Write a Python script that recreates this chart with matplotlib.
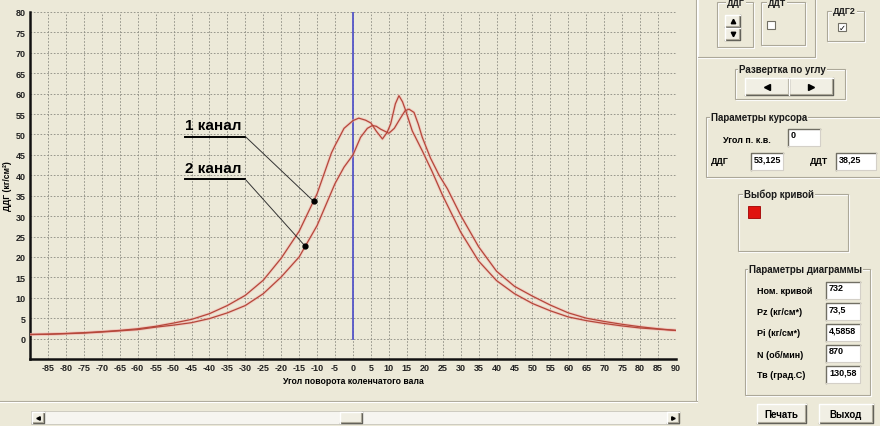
import numpy as np
import matplotlib
matplotlib.use("Agg")
import matplotlib.pyplot as plt
from matplotlib.patches import Rectangle
from matplotlib.lines import Line2D

plt.rcParams['axes.unicode_minus'] = False
plt.rcParams['font.family'] = ['Liberation Sans', 'DejaVu Sans']

# ---------------- data ----------------
ch1_x = [-90, -85, -80, -75, -70, -65, -60, -55, -50, -45, -40, -35, -30, -25, -20, -15, -10, -6, -5, -2.5,
         0, 1.6, 3.5, 5, 6.5, 8.2, 9.5, 10.5, 11.8, 12.8, 13.8, 14.7, 16.5, 19.3, 22, 25, 30, 35, 40, 45,
         50, 55, 60, 65, 70, 75, 80, 85, 90]
ch1_y = [1.0, 1.1, 1.25, 1.45, 1.7, 2.0, 2.4, 3.0, 3.8, 4.7, 6.1, 8.1, 10.6, 14.3, 19.7, 26.3, 35.5, 45.5, 47.3, 51.5,
         53.4, 54.0, 53.5, 52.8, 50.8, 48.9, 50.5, 52.6, 57.5, 59.5, 58.0, 55.8, 50.9, 46.0, 41.0, 35.0, 26.1, 19.0, 14.2, 11.0,
         8.6, 6.8, 5.3, 4.4, 3.7, 3.1, 2.6, 2.3, 2.0]

ch2_x = [-90, -85, -80, -75, -70, -65, -60, -55, -50, -45, -40, -35, -30, -25, -20, -15, -10, -5, -2.5,
         0, 2.1, 4, 5.4, 6.5, 7.7, 10, 11.5, 12.8, 14.5, 15.6, 17, 18.2, 19.3, 21.6, 24, 26.3, 30, 35, 40, 45,
         50, 55, 60, 65, 70, 75, 80, 85, 90]
ch2_y = [1.0, 1.05, 1.2, 1.35, 1.6, 1.9, 2.2, 2.8, 3.3, 3.9, 4.9, 6.3, 8.1, 11.0, 15.1, 20.0, 27.7, 38.0, 42.0,
         45.0, 49.3, 51.5, 52.2, 52.0, 51.3, 50.3, 51.5, 53.4, 55.8, 56.2, 55.4, 52.5, 49.3, 44.2, 40.0, 36.7, 30.2, 22.5, 16.5, 12.8,
         10.4, 8.2, 6.3, 5.0, 4.2, 3.5, 2.9, 2.4, 2.0]

x_ticks = list(range(-85, 91, 5))
y_ticks = list(range(0, 81, 5))
labels = ["1 канал", "2 канал"]
marker_x = [-11.0, -13.3]
cursor_angle = 0

BG = '#ECE9D8'
CURVE = '#b5473a'

fig = plt.figure(figsize=(8.8, 4.27), dpi=100, facecolor=BG)
W, H = 880, 427

# ---------------- UI overlay ----------------
ui = fig.add_axes([0, 0, 1, 1], zorder=0)
ui.set_xlim(0, W)
ui.set_ylim(H, 0)
ui.axis('off')
ui.patch.set_alpha(0)

def etched_h(x0, x1, y):
    ui.add_line(Line2D([x0, x1], [y, y], color='#aca899', lw=0.8))
    ui.add_line(Line2D([x0, x1], [y + 1, y + 1], color='white', lw=0.8))

def etched_v(x, y0, y1):
    ui.add_line(Line2D([x, x], [y0, y1], color='#aca899', lw=0.8))
    ui.add_line(Line2D([x + 1, x + 1], [y0, y1], color='white', lw=0.8))

def groupbox(x0, y0, x1, y1, label=None, lx=None, fs=7, bold=True):
    ui.add_patch(Rectangle((x0 + 1, y0 + 1), x1 - x0, y1 - y0, fill=False, ec='white', lw=0.8))
    ui.add_patch(Rectangle((x0, y0), x1 - x0, y1 - y0, fill=False, ec='#aca899', lw=0.8))
    if label:
        ui.text(lx if lx is not None else x0 + 5, y0, label, va='center', ha='left', fontsize=fs,
                fontweight='bold' if bold else 'normal', color='#1a1a1a',
                bbox=dict(fc=BG, ec='none', pad=0.6), zorder=5)

def button(x0, y0, x1, y1, text=None, fs=7):
    ui.add_patch(Rectangle((x0, y0), x1 - x0, y1 - y0, fc='#f1efe4', ec='none'))
    ui.add_line(Line2D([x0, x1, x1], [y1, y1, y0], color='#5f5e57', lw=1.0))
    ui.add_line(Line2D([x0, x0, x1], [y1, y0, y0], color='white', lw=1.0))
    ui.add_line(Line2D([x0 + 1, x1 - 1, x1 - 1], [y1 - 1, y1 - 1, y0 + 1], color='#aca899', lw=0.8))
    if text:
        ui.text((x0 + x1) / 2, (y0 + y1) / 2 + 0.5, text, ha='center', va='center', fontsize=fs, fontweight='bold')

def editbox(x0, y0, x1, y1, text):
    ui.add_patch(Rectangle((x0, y0), x1 - x0, y1 - y0, fc='white', ec='none'))
    ui.add_line(Line2D([x0, x0, x1], [y1, y0, y0], color='#716f64', lw=1.0))
    ui.add_line(Line2D([x0, x1, x1], [y1, y1, y0], color='#d4d0c8', lw=0.8))
    ui.text(x0 + 3, y0 + 1.5, text, ha='left', va='top', fontsize=6.5, fontweight='bold')

# chart panel border
etched_v(696, 0, 402)
etched_h(0, 697, 402)

# top controls
groupbox(697, -5, 815, 58)
groupbox(717, 3, 753, 48, "ДДГ", lx=727, fs=6.5)
button(725, 16, 740, 28)
button(725, 29, 740, 41)
ui.plot([732.5], [22], marker='^', ms=3.2, color='black')
ui.plot([732.5], [35], marker='v', ms=3.2, color='black')
groupbox(761, 3, 805, 46, "ДДТ", lx=768, fs=6.5)
ui.add_patch(Rectangle((767, 22), 8, 8, fc='white', ec='#716f64', lw=0.8))
groupbox(827, 12, 864, 42, "ДДГ2", lx=833, fs=6.5)
ui.add_patch(Rectangle((838, 24), 8, 8, fc='white', ec='#716f64', lw=0.8))
ui.text(842, 28.5, "✓", ha='center', va='center', fontsize=6, family='DejaVu Sans', fontweight='bold')

# Развертка по углу
groupbox(735, 70, 845, 100, "Развертка по углу", lx=739)
button(745, 79, 789, 96)
button(789, 79, 833, 96)
ui.plot([767], [87.5], marker='<', ms=4, color='black')
ui.plot([811], [87.5], marker='>', ms=4, color='black')

# Параметры курсора
groupbox(706, 118, 885, 178, "Параметры курсора", lx=711)
ui.text(723, 141, "Угол п. к.в.", ha='left', va='center', fontsize=6.5, fontweight='bold')
editbox(788, 130, 820, 147, str(cursor_angle))
ui.text(711, 162, "ДДГ", ha='left', va='center', fontsize=6.5, fontweight='bold')
editbox(751, 154, 783, 171, "53,125")
ui.text(810, 162, "ДДТ", ha='left', va='center', fontsize=6.5, fontweight='bold')
editbox(836, 154, 876, 171, "38,25")

# Выбор кривой
groupbox(738, 195, 848, 252, "Выбор кривой", lx=744)
ui.add_patch(Rectangle((748, 207), 12, 12, fc='#e0140f', ec='#a00000', lw=0.6))

# Параметры диаграммы
groupbox(745, 270, 870, 396, "Параметры диаграммы", lx=749)
rows = [("Ном. кривой", "732"), ("Pz (кг/см*)", "73,5"), ("Pi (кг/см*)", "4,5858"),
        ("N (об/мин)", "870"), ("Тв (град.С)", "130,58")]
for i, (lab, val) in enumerate(rows):
    y = 292 + i * 21
    ui.text(757, y, lab, ha='left', va='center', fontsize=6.5, fontweight='bold')
    editbox(826, y - 9, 860, y + 8, val)

button(757, 405, 806, 424, "Печать")
button(819, 405, 873, 424, "Выход")

# scrollbar
ui.add_patch(Rectangle((31, 412), 648, 13, fc='#f6f5f0', ec='#c8c6bb', lw=0.6))
button(32, 413, 44, 424)
button(667, 413, 679, 424)
button(340, 413, 362, 424)
ui.plot([38], [418.5], marker='<', ms=2.5, color='black')
ui.plot([673], [418.5], marker='>', ms=2.5, color='black')

# ---------------- chart ----------------
ax = fig.add_axes([30 / W, 1 - 360 / H, (676 - 30) / W, (360 - 13) / H], zorder=2)
ax.set_facecolor(BG)
ax.set_xlim(-90, 90)
ax.set_ylim(-5, 80)
ax.set_xticks(x_ticks)
ax.set_yticks(y_ticks)
ax.tick_params(length=0, labelsize=6.5, pad=3)
for t in ax.get_xticklabels() + ax.get_yticklabels():
    t.set_fontweight('bold')
    t.set_color('#222222')
ax.grid(True, color='#8a8a80', linestyle=(0, (2, 2)), linewidth=0.6)
ax.set_axisbelow(True)
for s in ['top', 'right']:
    ax.spines[s].set_visible(False)
for s in ['left', 'bottom']:
    ax.spines[s].set_linewidth(1.8)
    ax.spines[s].set_color('#111111')

ax.plot([cursor_angle, cursor_angle], [0, 80], color='#5555c8', lw=1.3, zorder=3)

ax.plot(ch1_x, ch1_y, color='#f3b3ad', lw=2.2, alpha=0.5, zorder=3)
ax.plot(ch2_x, ch2_y, color='#f3b3ad', lw=2.2, alpha=0.5, zorder=3)
ax.plot(ch1_x, ch1_y, color=CURVE, lw=0.9, zorder=4)
ax.plot(ch2_x, ch2_y, color=CURVE, lw=0.9, zorder=4)

ax.set_xlabel("Угол поворота коленчатого вала", fontsize=6.2, fontweight='bold', labelpad=3)
ax.set_ylabel("ДДГ (кг/см²)", fontsize=6.2, fontweight='bold', labelpad=3)

# annotations
series = [(ch1_x, ch1_y), (ch2_x, ch2_y)]
label_y = [49.5, 39.0]
for lab, mx, (sx, sy), ly in zip(labels, marker_x, series, label_y):
    my = float(np.interp(mx, sx, sy))
    ax.plot([-46.8, -30.0], [ly, ly], color='black', lw=1.4, zorder=5)
    ax.plot([-30.0, mx], [ly, my], color='#333333', lw=0.7, zorder=5)
    ax.plot([mx], [my], 'o', color='black', ms=3.5, zorder=6)
    ax.text(-46.8, ly + 1.0, lab, fontsize=11, fontweight='bold', ha='left', va='bottom', zorder=6)

fig.savefig("out.png", dpi=100, facecolor=BG)
